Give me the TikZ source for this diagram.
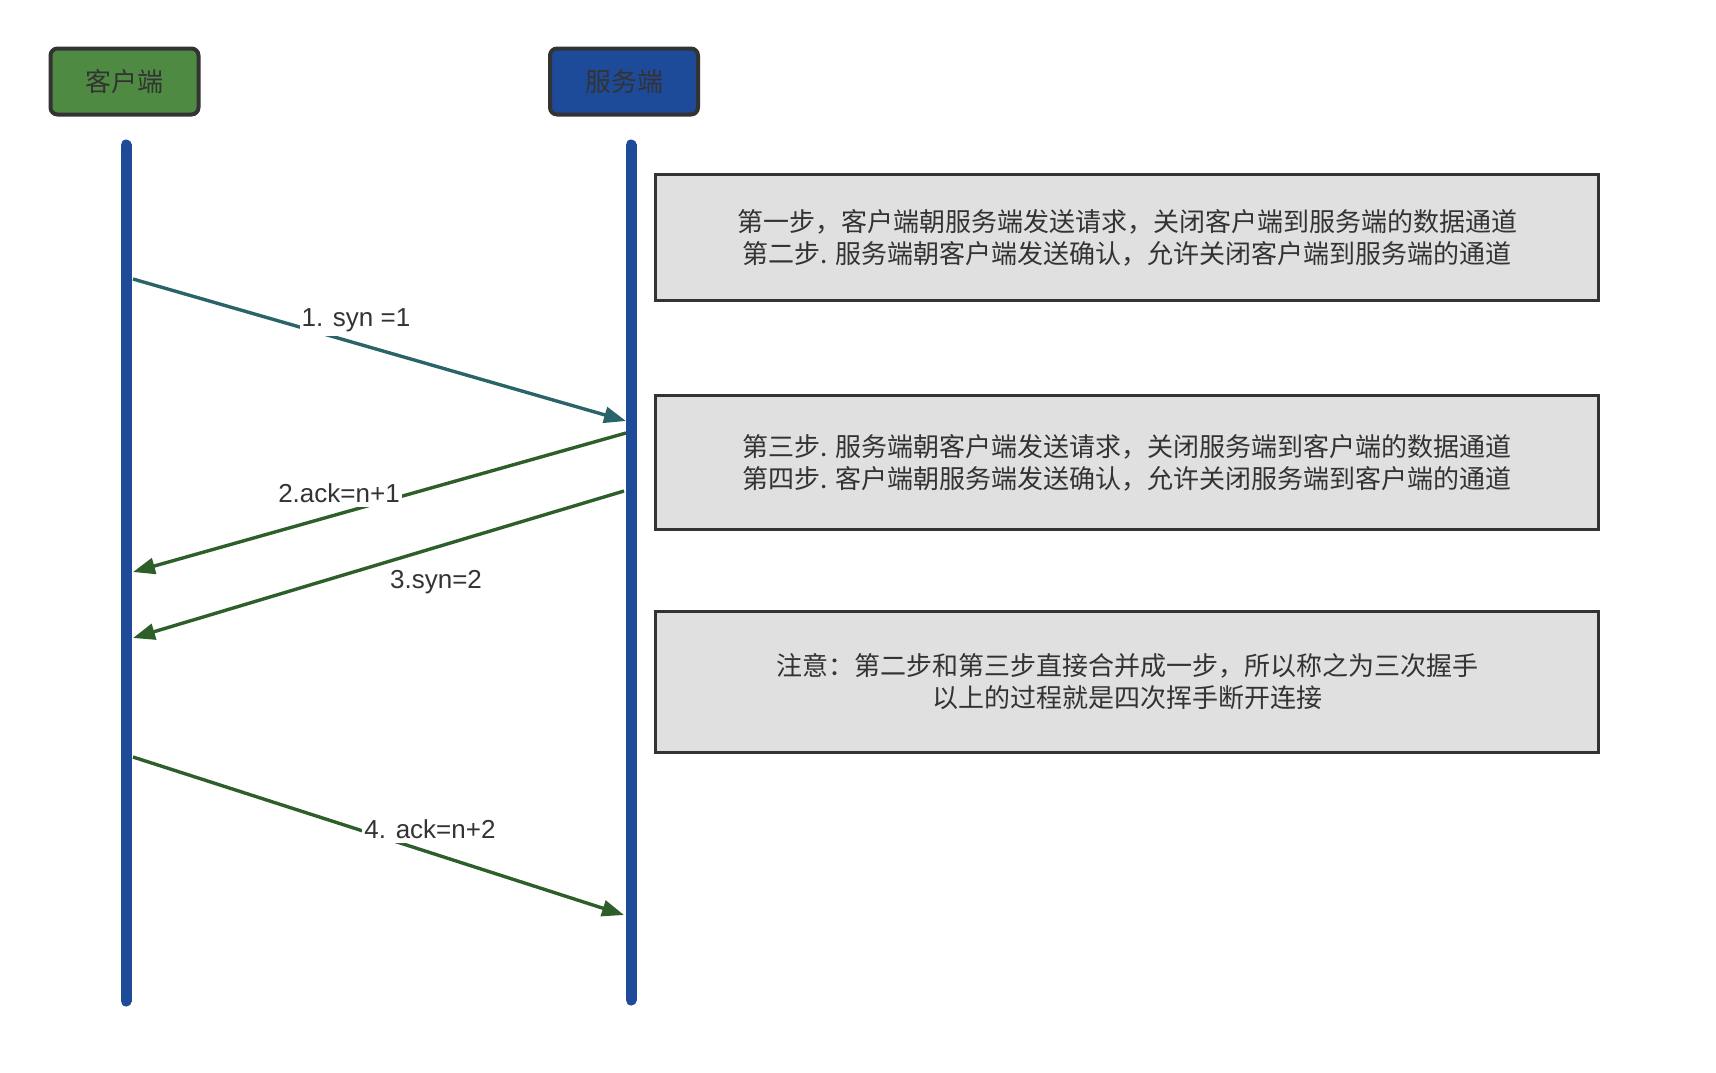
\documentclass[tikz,border=0pt]{standalone}
\usepackage{fontspec}
\setmainfont{Liberation Sans}
\newfontfamily\cjk{Noto Sans CJK SC}
\usetikzlibrary{arrows.meta}
\definecolor{kgruen}{HTML}{4E8A42}
\definecolor{sblau}{HTML}{1E4A9A}
\definecolor{rand}{HTML}{333333}
\definecolor{kasten}{HTML}{E0E0E0}
\definecolor{tuerkis}{HTML}{2A6469}
\definecolor{dgruen}{HTML}{2E5E29}
\definecolor{schrift}{HTML}{333333}
\tikzset{
  kopf/.style={draw=rand,line width=4pt,rounded corners=7pt,minimum width=148pt,minimum height=66pt,font=\cjk\fontsize{26}{32}\selectfont,text=schrift},
  leben/.style={sblau,line width=11pt,line cap=round},
  notiz/.style={draw=rand,fill=kasten,line width=3.3pt,minimum width=943pt,align=center,font=\cjk\fontsize{26}{32}\selectfont,text=schrift},
  msg/.style={-{Triangle[length=22pt,width=16pt]},line width=3.4pt},
  lab/.style={fill=white,inner xsep=2pt,inner ysep=4pt,text=schrift,font=\fontsize{26}{30}\selectfont},
}

\begin{document}
\begin{tikzpicture}[x=1pt,y=-1pt]
  \useasboundingbox (0,0) rectangle (1716,1072);
  \node[kopf,fill=kgruen] (client) at (124.5,81.5) {客户端};
  \node[kopf,fill=sblau] (server) at (624,81.5) {服务端};
  \draw[leben] (126,145) -- (126,1001);
  \draw[leben] (631,145) -- (631,1000);
  \node[notiz,minimum height=126pt] (schritt12) at (1127,237.5) {第一步，客户端朝服务端发送请求，关闭客户端到服务端的数据通道\\第二步. 服务端朝客户端发送确认，允许关闭客户端到服务端的通道};
  \node[notiz,minimum height=134pt] (schritt34) at (1127,462.5) {第三步. 服务端朝客户端发送请求，关闭服务端到客户端的数据通道\\第四步. 客户端朝服务端发送确认，允许关闭服务端到客户端的通道};
  \node[notiz,minimum height=141pt] (hinweis) at (1127,682) {注意：第二步和第三步直接合并成一步，所以称之为三次握手\\以上的过程就是四次挥手断开连接};
  \coordinate (c1) at (133,279);
  \coordinate (s1) at (626,421);
  \coordinate (s2) at (626,433);
  \coordinate (c2) at (133,572);
  \coordinate (s3) at (624,491);
  \coordinate (c3) at (133,638);
  \coordinate (c4) at (133,757);
  \coordinate (s4) at (624,915);
  \draw[msg,tuerkis] (c1) -- (s1);
  \draw[msg,dgruen] (s2) -- (c2);
  \draw[msg,dgruen] (s3) -- (c3);
  \draw[msg,dgruen] (c4) -- (s4);
  \node[lab] (l1) at (356,320) {1. syn =1};
  \node[lab] (l2) at (339,493) {2.ack=n+1};
  \node[lab] (l3) at (436,582) {3.syn=2};
  \node[lab] (l4) at (430,829) {4. ack=n+2};
\end{tikzpicture}
\end{document}
